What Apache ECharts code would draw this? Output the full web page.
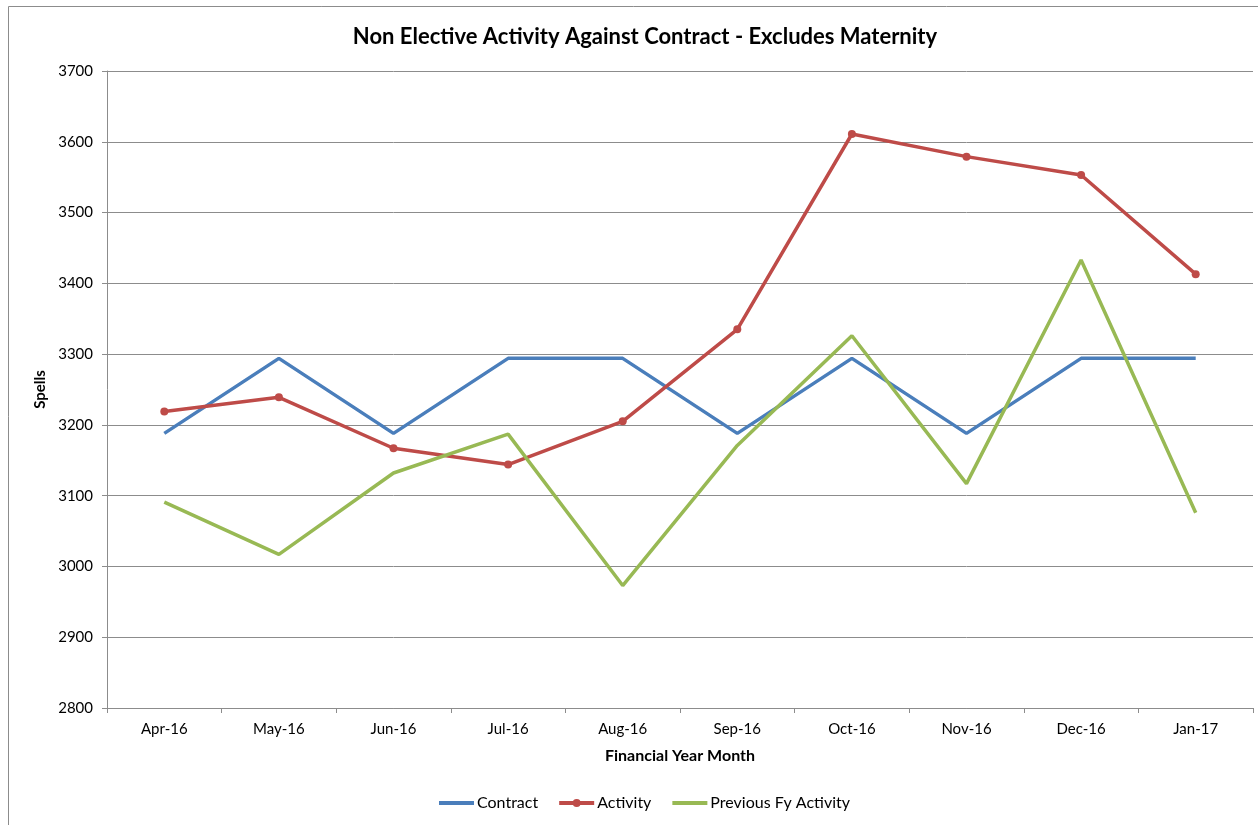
<!DOCTYPE html>
<html>
<head>
<meta charset="utf-8">
<script src="https://cdn.jsdelivr.net/npm/echarts@6/dist/echarts.min.js"></script>
<style>
  html, body { margin: 0; padding: 0; background: #fff; }
  #container { width: 1258px; height: 825px; }
</style>
</head>
<body>
<div id="container"></div>
<script>
  // 月份
  var months = ['Apr-16', 'May-16', 'Jun-16', 'Jul-16', 'Aug-16', 'Sep-16', 'Oct-16', 'Nov-16', 'Dec-16', 'Jan-17']
  // 合同
  var contract = [3188, 3294, 3188, 3294, 3294, 3188, 3294, 3188, 3294, 3294]
  // 实际
  var activity = [3219, 3239, 3167, 3144, 3205, 3335, 3611, 3579, 3553, 3413]
  // 上一财年
  var previousFy = [3091, 3017, 3132, 3187, 2973, 3171, 3326, 3117, 3433, 3076]

  var fontName = 'Lato, "Open Sans", sans-serif'
  var myChart = echarts.init(document.getElementById('container'))
  myChart.setOption({
    animation: false,
    textStyle: { fontFamily: fontName },
    graphic: [{
      type: 'rect',
      shape: { x: 8.5, y: 6.5, width: 1400, height: 1000 },
      style: { fill: 'none', stroke: '#8c8c8c', lineWidth: 1 },
      silent: true
    }],
    title: {
      text: 'Non Elective Activity Against Contract - Excludes Maternity',
      left: 640,
      textAlign: 'center',
      top: 21,
      textStyle: { fontFamily: fontName, fontWeight: 'bold', fontSize: 22, color: '#000' }
    },
    legend: {
      bottom: 9,
      left: 432,
      itemWidth: 35,
      itemHeight: 10,
      itemGap: 19,
      lineStyle: { width: 4 },
      textStyle: { fontFamily: fontName, fontSize: 16, color: '#000', padding: [0, 0, 0, -2] },
      data: [
        { name: 'Contract', itemStyle: { opacity: 0 } },
        { name: 'Activity' },
        { name: 'Previous Fy Activity', itemStyle: { opacity: 0 } }
      ]
    },
    grid: { left: 107, right: 5, top: 71, bottom: 117 },
    xAxis: {
      type: 'category',
      data: months,
      boundaryGap: true,
      name: 'Financial Year Month',
      nameLocation: 'middle',
      nameGap: 40,
      nameTextStyle: { fontFamily: fontName, fontWeight: 'bold', fontSize: 16, color: '#000' },
      axisLine: { lineStyle: { color: '#8c8c8c', width: 1 } },
      axisTick: { show: true, length: 5, lineStyle: { color: '#8c8c8c' } },
      axisLabel: { color: '#000', fontSize: 15, margin: 14 }
    },
    yAxis: {
      type: 'value',
      min: 2800,
      max: 3700,
      interval: 100,
      name: 'Spells',
      nameLocation: 'middle',
      nameGap: 58,
      nameRotate: 90,
      nameTextStyle: { fontFamily: fontName, fontWeight: 'bold', fontSize: 15, color: '#000' },
      axisLine: { show: true, lineStyle: { color: '#8c8c8c', width: 1 } },
      axisTick: { show: true, length: 5, lineStyle: { color: '#8c8c8c' } },
      axisLabel: { color: '#000', fontSize: 15, margin: 14, formatter: function (v) { return String(v) } },
      splitLine: { lineStyle: { color: '#8c8c8c', width: 1 } }
    },
    series: [{
        name: 'Contract',
        type: 'line',
        data: contract,
        symbol: 'none',
        lineStyle: { width: 3.5, color: '#4A7EBB' },
        itemStyle: { color: '#4A7EBB' }
      },
      {
        name: 'Activity',
        type: 'line',
        data: activity,
        symbol: 'circle',
        symbolSize: 8,
        lineStyle: { width: 3.5, color: '#BE4B48' },
        itemStyle: { color: '#BE4B48' }
      },
      {
        name: 'Previous Fy Activity',
        type: 'line',
        data: previousFy,
        symbol: 'none',
        lineStyle: { width: 3.5, color: '#98B954' },
        itemStyle: { color: '#98B954' }
      }
    ]
  })
</script>
</body>
</html>
